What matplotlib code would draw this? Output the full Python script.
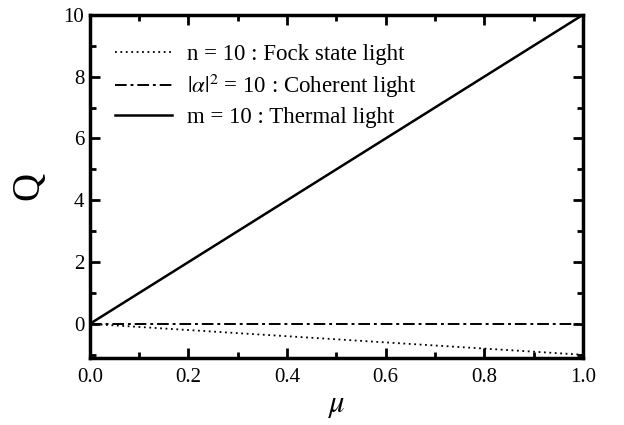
import matplotlib
matplotlib.use('Agg')
import matplotlib.pyplot as plt
from matplotlib.ticker import MultipleLocator, FormatStrFormatter

plt.rcParams['font.family'] = ['Liberation Serif', 'DejaVu Serif']
plt.rcParams['mathtext.fontset'] = 'stix'

# data (straight lines, endpoints)
mu = [0.0, 1.0]
q_fock = [0.0, -1.0]
q_coherent = [0.0, 0.0]
q_thermal = [0.0, 10.0]
labels = ['n = 10 : Fock state light',
          r'$|\alpha|^2$ = 10 : Coherent light',
          'm = 10 : Thermal light']

fig = plt.figure(figsize=(6.24, 4.25), dpi=100)
ax = fig.add_axes([0.144, 0.158, 0.790, 0.807])

ax.plot(mu, q_fock, color='black', linestyle=(0, (1, 2)), linewidth=1.3, label=labels[0])
ax.plot(mu, q_coherent, color='black', linestyle=(0, (6, 2, 1.5, 2)), linewidth=1.4, label=labels[1])
ax.plot(mu, q_thermal, color='black', linestyle='-', linewidth=1.8, label=labels[2])

ax.set_xlim(0, 1)
ax.set_ylim(-1.1, 10)
ax.xaxis.set_major_locator(MultipleLocator(0.2))
ax.xaxis.set_minor_locator(MultipleLocator(0.1))
ax.yaxis.set_major_locator(MultipleLocator(2))
ax.yaxis.set_minor_locator(MultipleLocator(1))
ax.tick_params(which='both', direction='in', top=True, right=True, labelsize=15, width=2)
ax.tick_params(which='major', length=7)
ax.tick_params(which='minor', length=4)
ax.tick_params(axis='x', pad=7)
ax.tick_params(axis='y', pad=4)
ax.xaxis.set_major_formatter(FormatStrFormatter('%.1f'))
for s in ax.spines.values():
    s.set_linewidth(2.5)

ax.set_xlabel(r'$\mu$', fontsize=22, labelpad=3)
ax.set_ylabel('Q', fontsize=28, labelpad=12)

ax.legend(loc='upper left', frameon=False, fontsize=16.5, handlelength=2.5,
          handletextpad=0.65, borderaxespad=0, borderpad=0, labelspacing=0.3,
          bbox_to_anchor=(0.051, 0.915))

fig.savefig('out.png', dpi=100)
